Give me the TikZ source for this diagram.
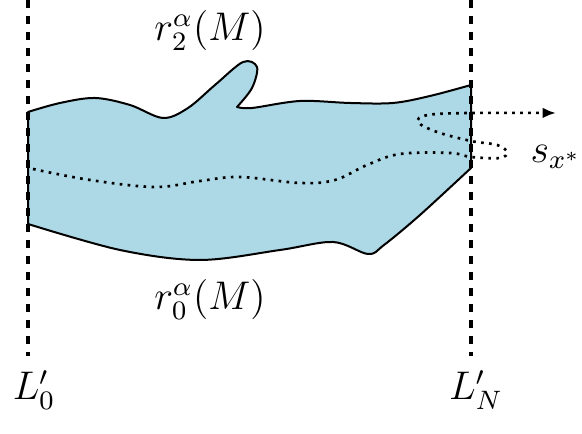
\documentclass[tikz,border=0pt]{standalone}
\usepackage{amsmath, amssymb}
\usepackage{tikz}
\usetikzlibrary{arrows.meta}
\usepackage{xcolor}
\definecolor{regionblue}{RGB}{173,216,230}

\begin{document}
\begin{tikzpicture}[
                x=0.3pt, y=-0.3pt,
                region/.style={draw=black, semithick, fill=regionblue, line join=round},
                wall/.style={draw, line width=1.1pt, dash pattern=on 2.4pt off 2.4pt},
                flow/.style={draw, line width=0.8pt, dash pattern=on 0.8pt off 1.6pt, -{Latex[length=4pt, width=3.2pt]}},
                lab/.style={inner sep=1pt, font=\large}
            ]
                \useasboundingbox (0,0) rectangle (582,434);

                % Region between the two walls
                \path[region] (28,224) -- (28,112)
                    -- plot[smooth, tension=0.55] coordinates {(28,112) (60,103) (95,98) (130,105) (163,118) (188,108) (215,85) (243,62) (257,67) (252,88) (237,107)}
                    -- plot[smooth, tension=0.55] coordinates {(237,107) (252,108) (300,101) (350,103) (393,103) (430,96) (471,85)}
                    -- (471,168)
                    -- plot[smooth, tension=0.55] coordinates {(471,168) (420,215) (384,245) (368,254) (333,242) (280,250) (200,260) (120,250) (28,224)}
                    -- cycle;

                % Walls
                \coordinate (w0top) at (28,0);
                \coordinate (w0bot) at (28,356);
                \coordinate (wNtop) at (471,0);
                \coordinate (wNbot) at (471,356);
                \path[wall] (w0top) -- (w0bot);
                \path[wall] (wNtop) -- (wNbot);

                % Dotted trajectory
                \coordinate (flowend) at (556,113);
                \path[flow] plot[smooth, tension=0.6] coordinates {(33,169) (90,180) (155,187) (200,181) (240,177) (300,183) (335,180) (367,165) (400,154) (450,153) (471,157) (500,158) (507,152) (497,145) (471,141) (437,132) (418,122) (428,115) (471,113) (flowend)};

                % Labels
                \node[lab] (rtwo) at (210,31) {$r_2^\alpha(M)$};
                \node[lab] (rzero) at (210,300) {$r_0^\alpha(M)$};
                \node[lab] (sx) at (556,157) {$s_{x^*}$};
                \node[lab] (Lzero) at (34,390) {$L'_0$};
                \node[lab] (LN) at (476,390) {$L'_N$};
            \end{tikzpicture}
\end{document}
